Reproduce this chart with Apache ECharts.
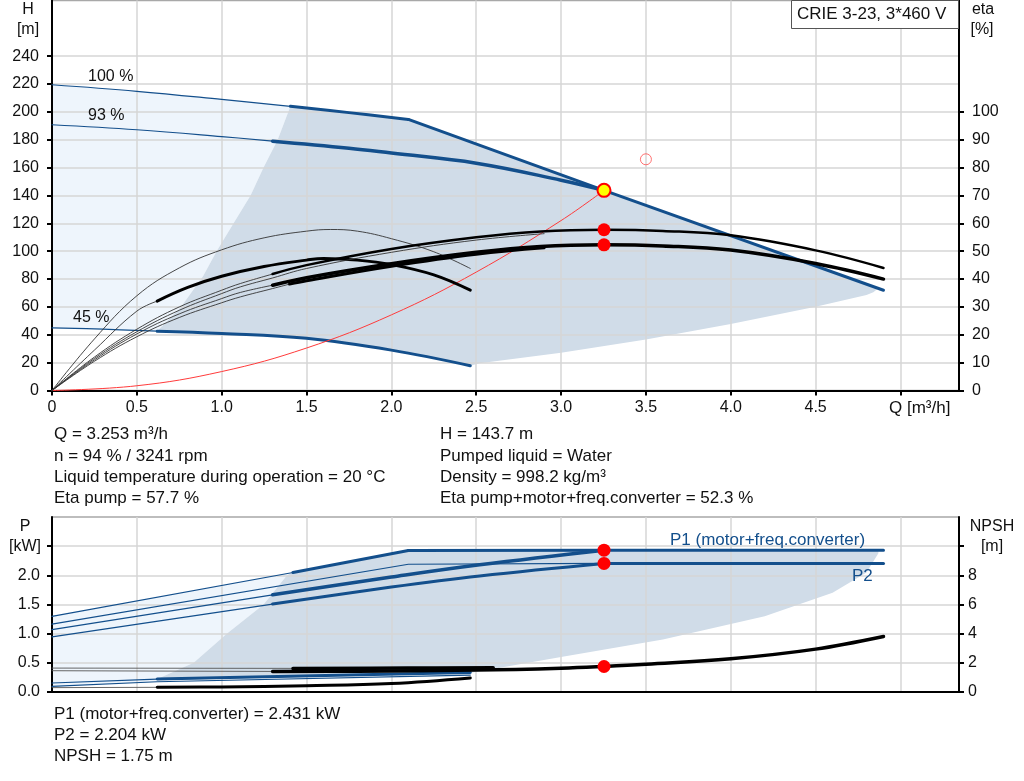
<!DOCTYPE html>
<html><head><meta charset="utf-8">
<script src="https://cdn.jsdelivr.net/npm/echarts@6/dist/echarts.min.js"></script>
<style>html,body{margin:0;padding:0;background:#fff}#c{width:1024px;height:781px}</style>
</head><body><div id="c"></div>
<script>
// ===== tick labels =====
const hLabels = [0,20,40,60,80,100,120,140,160,180,200,220,240];
const etaLabels = [0,10,20,30,40,50,60,70,80,90,100];
const pLabels = [0,0.5,1.0,1.5,2.0];
const pTicks = [0,0.5,1.0,1.5,2.0,2.5];
const npshLabels = [0,2,4,6,8];
const npshTicks = [0,2,4,6,8,10];

// ===== head curves (Q m3/h, H m) =====
const qH100Thin = [0,0.5,1.0,1.405];          const hH100Thin = [219.5,214.8,209,204];
const qH100Thick = [1.405,1.75,2.1];           const hH100Thick = [204,199.5,194.6];
const qHMax = [2.1,3.253,4.9];                 const hHMax = [194.6,143.7,72];
const qH93Thin = [0,0.5,1.0,1.3];              const hH93Thin = [190.8,187.2,182.3,179];
const qH93Thick = [1.3,1.75,2.0,2.5,3.0,3.253];const hH93Thick = [179,174,170.5,163.2,151,143.7];
const qH45Thin = [0,0.3,0.62];                 const hH45Thin = [45,44,42.6];
const qH45Thick = [0.62,1.0,1.5,2.0,2.465];    const hH45Thick = [42.6,41,37.5,29,17.8];
const qSys = [0,0.5,1,1.5,2,2.5,3,3.253];      const hSys = [0,3.4,13.6,30.5,54.3,85,122,143.7];

// ===== area outlines (Q, H) =====
const qLightTop = [0,0.5,1.0,1.405,1.33,1.246,1.17,1.07,0.97,0.89,0.76,0.62,0.3,0];
const hLightTop = [219.5,214.8,209,204,180,160,140,120,100,82,60,42.6,44,45];
const qDarkTop = [0.62,0.76,0.89,0.97,1.07,1.17,1.246,1.33,1.405,1.75,2.1,3.253,4.87,4.84,4.8,4.5,4.0,3.5,3.0,2.52,2.465,2.0,1.5,1.0,0.62];
const hDarkTop = [42.6,60,82,100,120,140,160,180,204,199.5,194.6,143.7,73.5,70.5,68.5,60.1,47.7,36.7,27.1,19.5,17.8,29,37.5,41,42.6];

// ===== efficiency curves (Q, eta %) =====
const qE45Pump = [0,0.25,0.5,0.75,1.0,1.25,1.5,1.64,1.8,2.0,2.25,2.465];
const eE45Pump = [0,18.5,34,44,50.5,54.8,57.2,57.8,57.2,54.5,49.8,43.8];
const qE45TotThin = [0,0.25,0.5,0.62];          const eE45TotThin = [0,14.5,28.5,32.1];
const qE45TotThick = [0.62,0.8,1.0,1.25,1.5,1.6,1.8,2.0,2.25,2.465];
const eE45TotThick = [32.1,37,41,44.5,46.8,47.4,46.8,45.2,41.5,36];
const qE93PumpThin = [0,0.25,0.5,0.75,1.0,1.11,1.3];   const eE93PumpThin = [0,12,22,30,36,38.4,41.8];
const qE93PumpThick = [1.3,1.5,2.0,2.5,2.88,3.253,3.6,4.0,4.5,4.9];
const eE93PumpThick = [41.8,45,50.8,55,57.1,57.7,57.3,55.7,50.3,44];
const qE93TotThin = [0,0.25,0.5,0.75,1.0,1.11,1.3];    const eE93TotThin = [0,11,20.3,27.5,33,35.2,37.8];
const qE93TotThick = [1.3,1.5,2.0,2.5,2.88,3.253,3.6,4.0,4.5,4.9];
const eE93TotThick = [37.8,40.5,45.5,49.6,51.7,52.3,51.9,50.4,45.6,40];
const qE100Pump = [0,0.25,0.5,0.75,1.0,1.11,1.3,1.5,2.0,2.5,2.9];
const eE100Pump = [0,11.5,21.1,28.8,34.8,37.2,40.4,43.8,49.6,54,56.3];
const qE100TotThin = [0,0.25,0.5,0.75,1.0,1.11,1.3,1.4];
const eE100TotThin = [0,10.5,19.3,26.2,31.5,33.6,36.6,38.2];
const qE100TotThick = [1.4,1.5,2.0,2.5,2.9];   const eE100TotThick = [38.2,39.4,44.6,48.9,51.2];

// ===== operating point =====
const opQ = 3.253, opH = 143.7, opEtaPump = 57.7, opEtaTot = 52.3;
const opP1 = 2.431, opP2 = 2.204, opNPSH = 1.75;
const refQ = 3.5, refH = 166;

// ===== power curves (Q, P kW) =====
const qP1_100Thin = [0,1.42];            const pP1_100Thin = [1.296,2.048];
const qP1_100Thick = [1.42,2.1];         const pP1_100Thick = [2.048,2.425];
const qP1Max = [2.1,3.253,4.9];          const pP1Max = [2.425,2.431,2.431];
const qP2_100Thin = [0,2.1,3.253];       const pP2_100Thin = [1.164,2.19,2.204];
const qP2Max = [3.253,4.9];              const pP2Max = [2.204,2.204];
const qP1_93Thin = [0,1.3];              const pP1_93Thin = [1.07,1.666];
const qP1_93Thick = [1.3,2.0,2.52,3.253];const pP1_93Thick = [1.666,1.97,2.18,2.431];
const qP2_93Thin = [0,1.3];              const pP2_93Thin = [0.945,1.507];
const qP2_93Thick = [1.3,2.0,2.52,3.253];const pP2_93Thick = [1.507,1.8,1.99,2.204];
const qP1_45Thin = [0,0.62];             const pP1_45Thin = [0.154,0.222];
const qP1_45Thick = [0.62,2.465];        const pP1_45Thick = [0.222,0.336];
const qP2_45 = [0,0.62,2.465];           const pP2_45 = [0.096,0.176,0.29];

// ===== NPSH curves (Q, m) =====
const qN100Thin = [0,1.42];              const nN100Thin = [1.64,1.62];
const qN100Thick = [1.42,2.1,2.6];       const nN100Thick = [1.62,1.64,1.66];
const qN93Thin = [0,1.3];                const nN93Thin = [1.46,1.41];
const qN93Thick = [1.3,1.8,2.5,3.0,3.253,3.5,4.0,4.5,4.9];
const nN93Thick = [1.41,1.43,1.5,1.63,1.75,1.9,2.28,2.94,3.81];
const qN45Thin = [0,0.62];               const nN45Thin = [0.3,0.32];
const qN45Thick = [0.62,1.0,1.5,2.0,2.465]; const nN45Thick = [0.32,0.35,0.43,0.58,0.96];

// ===== power area outlines (Q, P) =====
const qPLight = [0,1.42,1.385,1.247,1.03,0.835,0.64,0.62,0];
const pPLight = [1.296,2.048,2.0,1.5,1.0,0.5,0.25,0.176,0.096];
const qPDark = [0.62,0.64,0.835,1.03,1.247,1.385,1.42,2.1,4.87,4.87,4.8,4.6,4.2,3.6,3.0,2.47,0.62];
const pPDark = [0.2,0.25,0.5,1.0,1.5,2.0,2.048,2.425,2.431,2.38,2.05,1.7,1.3,0.9,0.6,0.33,0.2];

// ===== styles =====
const BLUE = '#134f8c', LIGHT = '#eef5fc', DARK = '#d0dce8', GRID = '#d6d6d6';
const FONT = '"Liberation Sans", Arial, sans-serif';
const pairs = (a, b) => a.map((v, i) => [v, b[i]]);

function line(xi, yi, qs, vs, color, width, smooth) {
  return { type: 'line', xAxisIndex: xi, yAxisIndex: yi, data: pairs(qs, vs),
    symbol: 'none', showSymbol: false, silent: true, smooth: smooth === false ? false : 0.4,
    lineStyle: { color: color, width: width, cap: 'round', join: 'round' }, z: 3 };
}
function poly(xi, yi, qs, vs, color) {
  return { type: 'custom', xAxisIndex: xi, yAxisIndex: yi, silent: true, z: -1, clip: true,
    data: pairs(qs, vs),
    renderItem: function (params, api) {
      if (params.dataIndex !== 0) return null;
      const pts = qs.map((q, i) => api.coord([q, vs[i]]));
      return { type: 'polygon', shape: { points: pts, smooth: 0 }, style: { fill: color } };
    } };
}
function dots(xi, yi, pts, fill, border, bw, size, z) {
  return { type: 'scatter', xAxisIndex: xi, yAxisIndex: yi, data: pts, symbol: 'circle',
    symbolSize: size, silent: true, z: z || 5,
    itemStyle: { color: fill, borderColor: border, borderWidth: bw, opacity: 1 } };
}

const chart = echarts.init(document.getElementById('c'), null, { renderer: 'canvas' });
const labelStyle = { color: '#111', fontSize: 16, fontFamily: FONT };
const txt = (x, y, s, extra) => Object.assign({ type: 'text', x: x, y: y,
  style: Object.assign({ text: s, fill: '#111', fontSize: 16, fontFamily: FONT, textVerticalAlign: 'middle' }, extra || {}) });
const info = (x, y, s) => txt(x, y, s, { fontSize: 17 });

const option = {
  animation: false,
  backgroundColor: '#fff',
  grid: [
    { left: 52, right: 65, top: 0.5, height: 390, show: true, borderColor: '#a8a8a8', borderWidth: 1.5, backgroundColor: 'transparent' },
    { left: 52, right: 65, top: 517, height: 175, show: true, borderColor: '#a8a8a8', borderWidth: 1.5, backgroundColor: 'transparent' }
  ],
  xAxis: [
    { type: 'value', gridIndex: 0, min: 0, max: 5.345, interval: 0.5,
      axisLine: { show: true, onZero: false, lineStyle: { color: '#000', width: 2 } },
      axisTick: { show: true, length: 5, lineStyle: { color: '#000', width: 2 } },
      axisLabel: Object.assign({ margin: 9, showMaxLabel: false, formatter: v => v === 0 ? '0' : (v > 4.99 ? '' : v.toFixed(1)) }, labelStyle),
      splitLine: { show: true, lineStyle: { color: GRID, width: 1.5 } } },
    { type: 'value', gridIndex: 1, min: 0, max: 5.345, interval: 0.5,
      axisLine: { show: true, onZero: false, lineStyle: { color: '#000', width: 2 } },
      axisTick: { show: false }, axisLabel: { show: false },
      splitLine: { show: true, lineStyle: { color: GRID, width: 1.5 } } }
  ],
  yAxis: [
    { type: 'value', gridIndex: 0, min: 0, max: 280, interval: 20, position: 'left',
      axisLine: { show: true, onZero: false, lineStyle: { color: '#000', width: 2 } },
      axisTick: { show: true, length: 5, customValues: hLabels, lineStyle: { color: '#000', width: 2 } },
      axisLabel: Object.assign({ margin: 13, customValues: hLabels }, labelStyle),
      splitLine: { show: true, lineStyle: { color: GRID, width: 1.5 } } },
    { type: 'value', gridIndex: 0, min: 0, max: 140, interval: 10, position: 'right',
      axisLine: { show: true, onZero: false, lineStyle: { color: '#000', width: 2 } },
      axisTick: { show: true, length: 5, customValues: etaLabels, lineStyle: { color: '#000', width: 2 } },
      axisLabel: Object.assign({ margin: 13, customValues: etaLabels }, labelStyle),
      splitLine: { show: false } },
    { type: 'value', gridIndex: 1, min: 0, max: 3, interval: 0.5, position: 'left',
      axisLine: { show: true, onZero: false, lineStyle: { color: '#000', width: 2 } },
      axisTick: { show: true, length: 5, customValues: pTicks, lineStyle: { color: '#000', width: 2 } },
      axisLabel: Object.assign({ margin: 12, customValues: pLabels, formatter: v => v.toFixed(1) }, labelStyle),
      splitLine: { show: true, lineStyle: { color: GRID, width: 1.5 } } },
    { type: 'value', gridIndex: 1, min: 0, max: 12, interval: 2, position: 'right',
      axisLine: { show: true, onZero: false, lineStyle: { color: '#000', width: 2 } },
      axisTick: { show: true, length: 5, customValues: npshTicks, lineStyle: { color: '#000', width: 2 } },
      axisLabel: Object.assign({ margin: 9, customValues: npshLabels }, labelStyle),
      splitLine: { show: false } }
  ],
  series: [
    poly(0, 0, qLightTop, hLightTop, LIGHT),
    poly(0, 0, qDarkTop, hDarkTop, DARK),
    poly(1, 2, qPLight, pPLight, LIGHT),
    poly(1, 2, qPDark, pPDark, DARK),

    line(0, 0, qH100Thin, hH100Thin, BLUE, 1.2),
    line(0, 0, qH100Thick, hH100Thick, BLUE, 3),
    line(0, 0, qHMax, hHMax, BLUE, 3, false),
    line(0, 0, qH93Thin, hH93Thin, BLUE, 1.2),
    line(0, 0, qH93Thick, hH93Thick, BLUE, 3.5),
    line(0, 0, qH45Thin, hH45Thin, BLUE, 1.2),
    line(0, 0, qH45Thick, hH45Thick, BLUE, 3),
    line(0, 0, qSys, hSys, '#ff3b3b', 1),

    line(0, 1, qE45Pump, eE45Pump, '#333', 0.9),
    line(0, 1, qE45TotThin, eE45TotThin, '#333', 0.9),
    line(0, 1, qE45TotThick, eE45TotThick, '#000', 3),
    line(0, 1, qE100Pump, eE100Pump, '#333', 0.9),
    line(0, 1, qE100TotThin, eE100TotThin, '#333', 0.9),
    line(0, 1, qE100TotThick, eE100TotThick, '#000', 3),
    line(0, 1, qE93PumpThin, eE93PumpThin, '#333', 0.9),
    line(0, 1, qE93PumpThick, eE93PumpThick, '#000', 2.5),
    line(0, 1, qE93TotThin, eE93TotThin, '#333', 0.9),
    line(0, 1, qE93TotThick, eE93TotThick, '#000', 3.5),

    line(1, 2, qP1_100Thin, pP1_100Thin, BLUE, 1.2, false),
    line(1, 2, qP1_100Thick, pP1_100Thick, BLUE, 3, false),
    line(1, 2, qP1Max, pP1Max, BLUE, 3, false),
    line(1, 2, qP2_100Thin, pP2_100Thin, BLUE, 1.2, false),
    line(1, 2, qP2Max, pP2Max, BLUE, 3, false),
    line(1, 2, qP1_93Thin, pP1_93Thin, BLUE, 1.2, false),
    line(1, 2, qP1_93Thick, pP1_93Thick, BLUE, 3.5),
    line(1, 2, qP2_93Thin, pP2_93Thin, BLUE, 1.2, false),
    line(1, 2, qP2_93Thick, pP2_93Thick, BLUE, 3),
    line(1, 2, qP1_45Thin, pP1_45Thin, BLUE, 1.2, false),
    line(1, 2, qP1_45Thick, pP1_45Thick, BLUE, 3, false),
    line(1, 2, qP2_45, pP2_45, BLUE, 1.2, false),

    line(1, 3, qN100Thin, nN100Thin, '#555', 0.9, false),
    line(1, 3, qN100Thick, nN100Thick, '#000', 3.5),
    line(1, 3, qN93Thin, nN93Thin, '#555', 0.9, false),
    line(1, 3, qN93Thick, nN93Thick, '#000', 3.5),
    line(1, 3, qN45Thin, nN45Thin, '#555', 0.9, false),
    line(1, 3, qN45Thick, nN45Thick, '#000', 3),

    { type: 'scatter', xAxisIndex: 0, yAxisIndex: 0, data: [[refQ, refH]], symbol: 'circle', symbolSize: 11, silent: true, z: 6,
      itemStyle: { color: 'rgba(255,255,255,0)', borderColor: '#ff5050', borderWidth: 1 } },
    dots(0, 0, [[opQ, opH]], '#ffff00', '#ff0000', 2, 13, 7),
    dots(0, 1, [[opQ, opEtaPump], [opQ, opEtaTot]], '#ff0000', '#ff0000', 0, 13, 7),
    dots(1, 2, [[opQ, opP1], [opQ, opP2]], '#ff0000', '#ff0000', 0, 13, 7),
    dots(1, 3, [[opQ, opNPSH]], '#ff0000', '#ff0000', 0, 13, 7)
  ],
  graphic: [
    { type: 'rect', shape: { x: 791.5, y: 0.5, width: 167, height: 28 }, style: { fill: '#fff', stroke: '#555', lineWidth: 1 }, z: 50 },
    txt(797, 14, 'CRIE 3-23, 3*460 V', { fontSize: 17 }),
    txt(28, 10, 'H', { textAlign: 'center' }),
    txt(28, 30, '[m]', { textAlign: 'center' }),
    txt(983, 10, 'eta', { textAlign: 'center' }),
    txt(982, 30, '[%]', { textAlign: 'center' }),
    txt(889, 408, 'Q [m³/h]', { fontSize: 17 }),
    txt(25, 527, 'P', { textAlign: 'center' }),
    txt(25, 547, '[kW]', { textAlign: 'center' }),
    txt(992, 527, 'NPSH', { textAlign: 'center' }),
    txt(992, 547, '[m]', { textAlign: 'center' }),
    txt(88, 77, '100 %', {}),
    txt(88, 116, '93 %', {}),
    txt(73, 318, '45 %', {}),
    txt(670, 540, 'P1 (motor+freq.converter)', { fill: BLUE, fontSize: 17 }),
    txt(852, 576, 'P2', { fill: BLUE, fontSize: 17 }),
    info(54, 434, 'Q = 3.253 m³/h'),
    info(54, 456, 'n = 94 % / 3241 rpm'),
    info(54, 477, 'Liquid temperature during operation = 20 °C'),
    info(54, 498, 'Eta pump = 57.7 %'),
    info(440, 434, 'H = 143.7 m'),
    info(440, 456, 'Pumped liquid = Water'),
    info(440, 477, 'Density = 998.2 kg/m³'),
    info(440, 498, 'Eta pump+motor+freq.converter = 52.3 %'),
    info(54, 714, 'P1 (motor+freq.converter) = 2.431 kW'),
    info(54, 735, 'P2 = 2.204 kW'),
    info(54, 756, 'NPSH = 1.75 m')
  ]
};
option.graphic.forEach(g => { if (g.type === 'text') g.z = 51; });
chart.setOption(option);
</script></body></html>
